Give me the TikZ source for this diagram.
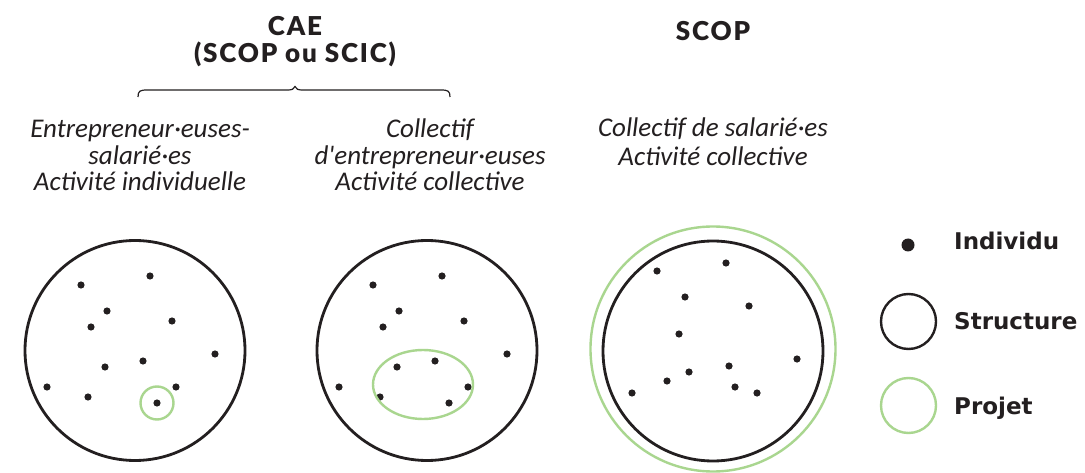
\documentclass[tikz,border=0pt]{standalone}
\usepackage{fontspec}
\setmainfont{Carlito}
\newfontfamily\titlefont{Lato Black}[LetterSpace=7]
\newfontfamily\legendfont{DejaVu Sans}
\usepackage{xcolor}
\usetikzlibrary{positioning}
\definecolor{ink}{HTML}{231F20}
\definecolor{projetgreen}{HTML}{A9D68F}
\tikzset{
  structure/.style={draw=ink, line width=2.8pt},
  projet/.style={draw=projetgreen, line width=2.4pt},
  titre/.style={font=\titlefont\fontsize{26}{27}\selectfont, text=ink, align=center, inner sep=0pt},
  desc/.style={font=\fontsize{27}{26.5}\selectfont\itshape, text=ink, align=center, inner sep=0pt},
  legende/.style={font=\legendfont\fontsize{23}{28}\selectfont\bfseries, text=ink, inner sep=0pt},
}
\begin{document}
\begin{tikzpicture}[x=1pt, y=-1pt]
\useasboundingbox[fill=white] (0,0) rectangle (1085,473);
% titles
\node[titre, anchor=base] (cae) at (295,63) {CAE\\(SCOP ou SCIC)};
\node[titre, anchor=base] (scop) at (713,41) {SCOP};
% brace under CAE
\draw[ink, line width=1.2pt] (138,97) .. controls (138,91) and (140,90) .. (147,90) -- (288,90)
  .. controls (292,90) and (294,89) .. (295,86.5) .. controls (296,89) and (298,90) .. (302,90)
  -- (441,90) .. controls (448,90) and (450,91) .. (450,97);
% descriptions
\node[desc, anchor=base] (descA) at (140,191) {Entrepreneur·euses-\\salarié·es\\Activité individuelle};
\node[desc, anchor=base] (descB) at (430,191) {Collectif\\d\textquotesingle entrepreneur·euses\\Activité collective};
\node[desc, anchor=base, font=\fontsize{27}{28.5}\selectfont\itshape] (descC) at (713,165.5) {Collectif de salarié·es\\Activité collective};
% CAE structures, same dots twice
\foreach \s in {0,292} {
\draw[structure, shift={(\s,0)}] (135,350.5) circle (110);
\foreach \x/\y in {81/285, 150/276, 107/311, 172/321, 91/327, 215/354, 143/361, 105/367, 47/387, 176/387, 88/397, 157/403}
\fill[ink, shift={(\s,0)}] (\x,\y) circle (3.6);
}
\draw[projet] (157,403) circle (16.5); % one entrepreneur
\draw[projet] (423,384.5) ellipse (50 and 34.5); % collective project
% SCOP
\draw[projet] (713,349) circle (122.5);
\draw[structure] (713,351) circle (110);
\foreach \x/\y in {657/271, 726/263, 685/297, 749/306, 679/334, 797/359, 729/366, 689/372, 667/381, 632/393, 735/387, 757/393}
\fill[ink] (\x,\y) circle (3.6);
% legend
\fill[ink] (908,245) circle (6.5);
\draw[structure, line width=2.4pt] (908.5,321.5) circle (27.5);
\draw[projet] (908.5,405.5) circle (27.5);
\node[legende, anchor=base west] (individu) at (954,250) {Individu};
\node[legende, anchor=base west] (struct) at (954,330) {Structure};
\node[legende, anchor=base west] (projetlbl) at (954,414) {Projet};
\end{tikzpicture}
\end{document}
